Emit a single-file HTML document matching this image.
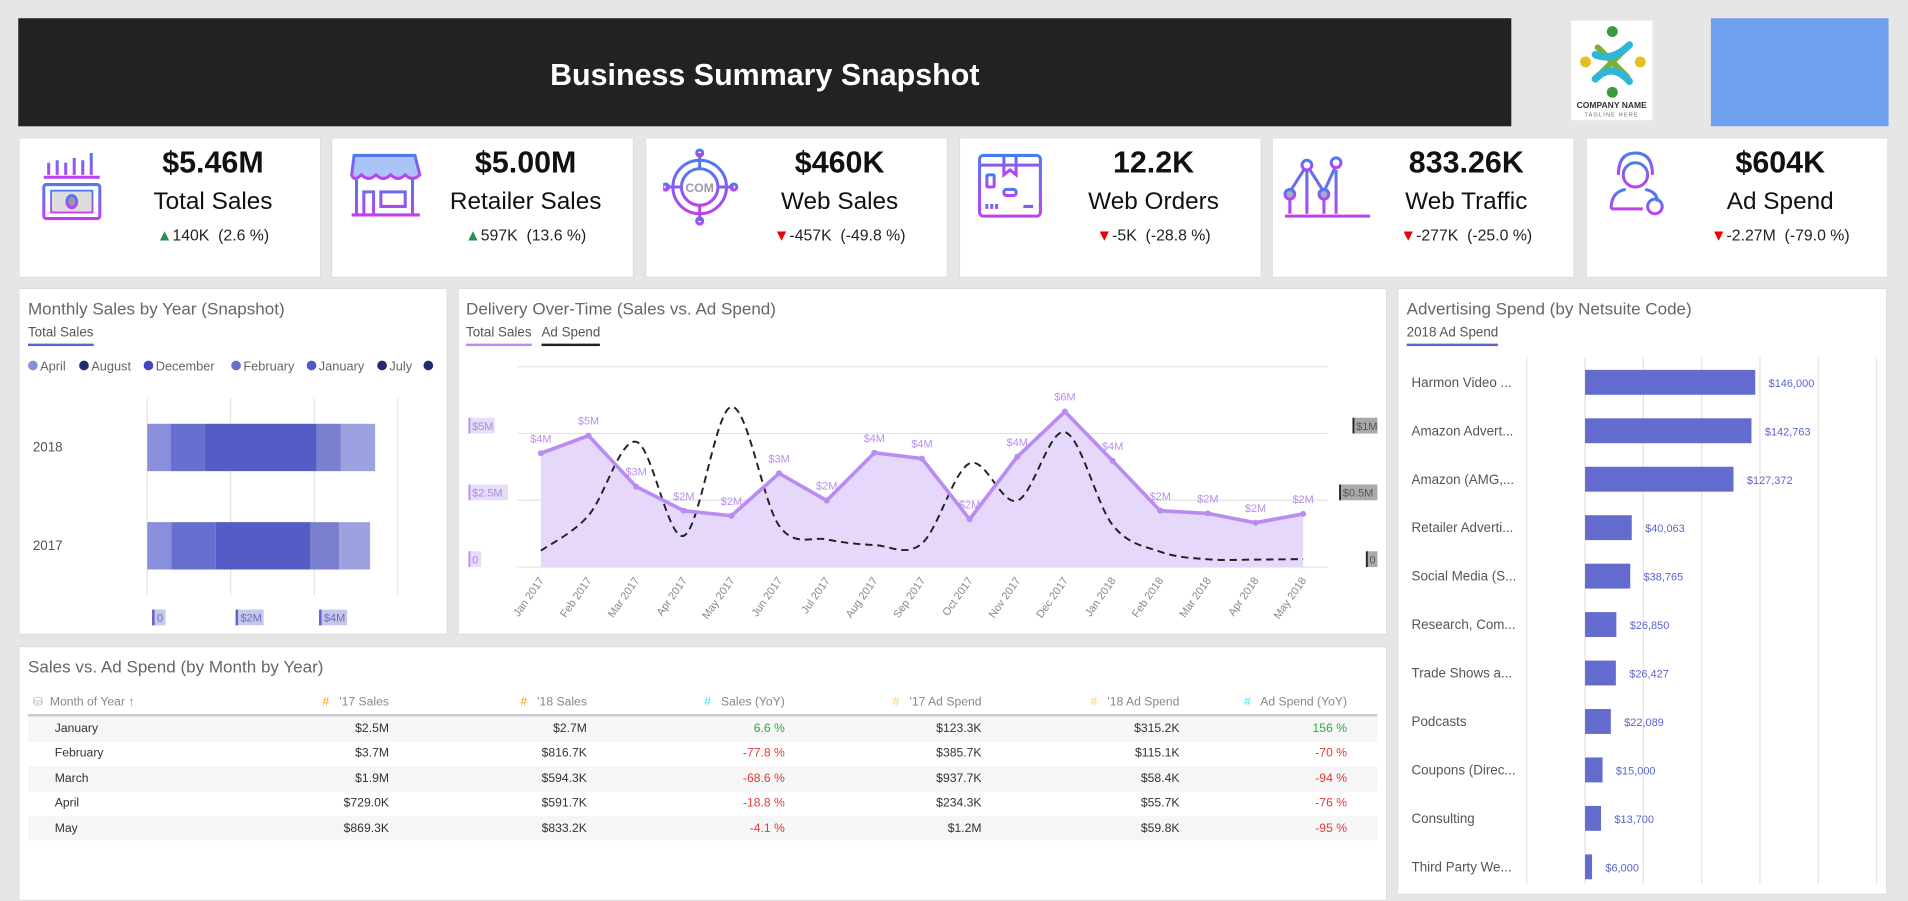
<!DOCTYPE html>
<html><head><meta charset="utf-8">
<style>
html,body{margin:0;padding:0;width:1908px;height:884px;overflow:hidden;background:#e6e6e6;font-family:"Liberation Sans",sans-serif;}
#root{position:absolute;left:0;top:0;width:1568px;height:728px;transform-origin:0 0;transform:scale(1.21684,1.21429);background:#e6e6e6;}
.abs{position:absolute;}
.card{position:absolute;background:#fff;border:1px solid #ddd;box-sizing:border-box;}
.kpi .val{position:absolute;left:70px;width:178px;text-align:center;top:6px;font-size:25px;font-weight:bold;color:#111;}
.kpi .lbl{position:absolute;left:70px;width:178px;text-align:center;top:41px;font-size:20px;color:#111;}
.kpi .dl{position:absolute;left:70px;width:178px;text-align:center;top:72px;font-size:13px;color:#222;}
.up{color:#2e8b57}.dn{color:#e00}
.ptitle{position:absolute;font-size:14px;color:#666;}
.tab{position:absolute;font-size:11px;color:#555;padding-bottom:3px;}
table{border-collapse:collapse;font-size:10px;color:#333;}
td,th{height:20.4px;padding:0;}
th{font-weight:normal;color:#888;}
</style></head><body>
<div id="root">
<div class="abs" style="left:15px;top:15px;width:1227px;height:89px;background:#222;"></div>
<div class="abs" style="left:15px;top:48px;width:1227px;text-align:center;color:#fff;font-weight:bold;font-size:25px;">Business Summary Snapshot</div>
<div class="abs" style="left:1291px;top:17px;width:67px;height:82px;background:#fff;">
<svg width="67" height="82" viewBox="0 0 67 82">
<circle cx="34" cy="9" r="4.5" fill="#3c9a3c"/><circle cx="34" cy="59" r="4.5" fill="#3c9a3c"/>
<circle cx="12" cy="34" r="4.5" fill="#e5c020"/><circle cx="57" cy="34" r="4.5" fill="#e5c020"/>
<path d="M22 22 L46 46 M46 22 L22 46" stroke="#7ab03a" stroke-width="5" stroke-linecap="round"/>
<path d="M20 28 Q34 34 48 20 M20 48 Q34 34 48 50" stroke="#2fb6d6" stroke-width="6" fill="none" stroke-linecap="round"/>
<text x="33.5" y="72" font-size="7" font-weight="bold" text-anchor="middle" fill="#333">COMPANY NAME</text>
<text x="33.5" y="79" font-size="4.5" text-anchor="middle" fill="#666" letter-spacing="1">TAGLINE HERE</text>
</svg></div>
<div class="abs" style="left:1406px;top:15px;width:146px;height:89px;background:#6ea0ee;"></div>

<svg width="0" height="0" style="position:absolute"><defs><linearGradient id="ig" x1="0" y1="0" x2="0" y2="1"><stop offset="0" stop-color="#4a7cf0"/><stop offset="1" stop-color="#c040f0"/></linearGradient></defs></svg>

<div class="card kpi" style="left:15px;top:113px;width:249px;height:116px;">
<svg class="abs" style="left:18px;top:10px" width="52" height="60" fill="none" stroke="url(#ig)" stroke-width="2.5"><path d="M2 22H48M6 20V10M13 20V8M20 20V10M27 20V6M34 20V8M41 20V2"/><rect x="2" y="28" width="46" height="28" rx="2"/><rect x="8" y="33" width="34" height="18" fill="#ddd" stroke-width="1.5"/><ellipse cx="25" cy="42" rx="4" ry="5" fill="#99a"/></svg>
<div class="val">$5.46M</div><div class="lbl">Total Sales</div><div class="dl"><span class="up">▲</span>140K &nbsp;(2.6 %)</div></div>
<div class="card kpi" style="left:272px;top:113px;width:249px;height:116px;">
<svg class="abs" style="left:14px;top:10px" width="60" height="60" fill="none" stroke="url(#ig)" stroke-width="2.5"><path d="M4 4H54L58 20Q52 26 46 20Q40 26 34 20Q28 26 22 20Q16 26 10 20Q4 26 2 20Z" fill="#aac4f8"/><path d="M6 24V52M52 24V52M2 53H58M12 52V34H20V52M26 34H46V46H26Z"/></svg>
<div class="val">$5.00M</div><div class="lbl">Retailer Sales</div><div class="dl"><span class="up">▲</span>597K &nbsp;(13.6 %)</div></div>
<div class="card kpi" style="left:530px;top:113px;width:249px;height:116px;">
<svg class="abs" style="left:14px;top:8px" width="62" height="64" fill="none" stroke="url(#ig)" stroke-width="2.5"><circle cx="30" cy="32" r="22"/><circle cx="30" cy="32" r="15"/><path d="M30 4V17M30 47V60M2 32H15M45 32H58"/><circle cx="30" cy="4" r="2.5"/><circle cx="30" cy="60" r="2.5"/><circle cx="2" cy="32" r="2.5"/><circle cx="58" cy="32" r="2.5"/><text x="30" y="36" font-size="10" font-weight="bold" text-anchor="middle" fill="#99a" stroke="none">COM</text></svg>
<div class="val">$460K</div><div class="lbl">Web Sales</div><div class="dl"><span class="dn">▼</span>-457K &nbsp;(-49.8 %)</div></div>
<div class="card kpi" style="left:788px;top:113px;width:249px;height:116px;">
<svg class="abs" style="left:14px;top:10px" width="56" height="60" fill="none" stroke="url(#ig)" stroke-width="2.5"><rect x="2" y="4" width="50" height="50" rx="3"/><path d="M2 12H52M22 4V20L27 16L32 20V4" /><rect x="8" y="20" width="6" height="10" rx="1"/><rect x="22" y="32" width="10" height="5" rx="2"/><path d="M8 48V44M12 48V44M16 48V44M38 46H46"/></svg>
<div class="val">12.2K</div><div class="lbl">Web Orders</div><div class="dl"><span class="dn">▼</span>-5K &nbsp;(-28.8 %)</div></div>
<div class="card kpi" style="left:1045px;top:113px;width:249px;height:116px;">
<svg class="abs" style="left:8px;top:10px" width="80" height="60" fill="none" stroke="url(#ig)" stroke-width="2.5"><path d="M6 34L20 12L34 34L44 12M6 38V52M20 16V52M34 38V52M44 16V52M2 54H72"/><circle cx="6" cy="36" r="4" fill="#aac"/><circle cx="20" cy="12" r="4" fill="#fff"/><circle cx="34" cy="36" r="4" fill="#aac"/><circle cx="44" cy="10" r="4" fill="#fff"/></svg>
<div class="val">833.26K</div><div class="lbl">Web Traffic</div><div class="dl"><span class="dn">▼</span>-277K &nbsp;(-25.0 %)</div></div>
<div class="card kpi" style="left:1303px;top:113px;width:249px;height:116px;">
<svg class="abs" style="left:16px;top:8px" width="56" height="66" fill="none" stroke="url(#ig)" stroke-width="2.5"><path d="M10 22Q10 4 24 4Q38 4 38 22"/><circle cx="24" cy="22" r="10"/><path d="M4 50Q4 36 16 34M32 34Q42 36 42 44M4 50H30"/><circle cx="40" cy="48" r="6"/><path d="M40 54V62"/></svg>
<div class="val">$604K</div><div class="lbl">Ad Spend</div><div class="dl"><span class="dn">▼</span>-2.27M &nbsp;(-79.0 %)</div></div>

<div class="card" style="left:15px;top:237px;width:353px;height:286px;"></div>
<div class="ptitle" style="left:23px;top:246px;">Monthly Sales by Year (Snapshot)</div>
<div class="tab" style="left:23px;top:268px;border-bottom:2px solid #5b63cf;">Total Sales</div>

<div class="card" style="left:376px;top:237px;width:764px;height:286px;"></div>
<div class="ptitle" style="left:383px;top:246px;">Delivery Over-Time (Sales vs. Ad Spend)</div>
<div class="tab" style="left:383px;top:268px;border-bottom:2px solid #b98cf2;">Total Sales</div>
<div class="tab" style="left:445px;top:268px;border-bottom:2px solid #222;">Ad Spend</div>

<div class="card" style="left:1148px;top:237px;width:403px;height:500px;"></div>
<div class="ptitle" style="left:1156px;top:246px;">Advertising Spend (by Netsuite Code)</div>
<div class="tab" style="left:1156px;top:268px;border-bottom:2px solid #5b63cf;">2018 Ad Spend</div>

<div class="card" style="left:15px;top:532px;width:1125px;height:210px;"></div>
<div class="ptitle" style="left:23px;top:541px;">Sales vs. Ad Spend (by Month by Year)</div>
<table class="abs" style="left:23px;top:568px;width:1109px;">
<colgroup><col style="width:130px"><col style="width:160px"><col style="width:159px"><col style="width:159px"><col style="width:158px"><col style="width:159px"><col style="width:159px"></colgroup>
<tr style="border-bottom:2px solid #ccc;height:21px">
<th style="text-align:left;padding-left:4px"><span style="color:#aaa">⛁</span>&nbsp; Month of Year ↑</th>
<th style="text-align:right"><span style="color:#f90">#</span>&nbsp;&nbsp; '17 Sales</th>
<th style="text-align:right"><span style="color:#f90">#</span>&nbsp;&nbsp; '18 Sales</th>
<th style="text-align:right"><span style="color:#3ee">#</span>&nbsp;&nbsp; Sales (YoY)</th>
<th style="text-align:right"><span style="color:#fc6">#</span>&nbsp;&nbsp; '17 Ad Spend</th>
<th style="text-align:right"><span style="color:#fc6">#</span>&nbsp;&nbsp; '18 Ad Spend</th>
<th style="text-align:right;padding-right:25px"><span style="color:#3ee">#</span>&nbsp;&nbsp; Ad Spend (YoY)</th></tr>
<tbody id="tbody"></tbody></table>

<svg id="charts" class="abs" style="left:0;top:0" width="1568" height="728" font-family="Liberation Sans, sans-serif"></svg>
</div>
<script>
// ---- Monthly sales by year ----
const yearCats=['2018','2017'];
const seg2018=[0.56,0.82,2.68,0.58,0.82];
const seg2017=[0.58,1.06,2.26,0.70,0.74];
const segColors=['#8a8fdb','#6870cf','#545dc5','#7a7fd0','#9ca1e0'];
const legendNames=['April','August','December','February','January','July'];
const legendColors=['#8a8fdb','#262a6e','#4048c0','#6870cf','#4f58cc','#262a6e'];
const mTicks=[0,2,4,6];
const mTickLabels=['0','$2M','$4M'];
// ---- Delivery over time ----
const months=['Jan 2017','Feb 2017','Mar 2017','Apr 2017','May 2017','Jun 2017','Jul 2017','Aug 2017','Sep 2017','Oct 2017','Nov 2017','Dec 2017','Jan 2018','Feb 2018','Mar 2018','Apr 2018','May 2018'];
const salesVals=[4.26,4.92,3.01,2.11,1.92,3.51,2.49,4.28,4.06,1.79,4.13,5.82,3.98,2.11,2.01,1.66,1.99];
const salesLabels=['$4M','$5M','$3M','$2M','$2M','$3M','$2M','$4M','$4M','$2M','$4M','$6M','$4M','$2M','$2M','$2M','$2M'];
const adVals=[0.123,0.386,0.938,0.234,1.2,0.31,0.207,0.165,0.177,0.776,0.497,1.01,0.315,0.115,0.058,0.056,0.06];
const leftTicks=[0,2.5,5,7.5];
const leftTickLabels=['0','$2.5M','$5M'];
const rightTicks=[0,0.5,1];
const rightTickLabels=['0','$0.5M','$1M'];
// ---- Advertising spend ----
const adCats=['Harmon Video ...','Amazon Advert...','Amazon (AMG,...','Retailer Adverti...','Social Media (S...','Research, Com...','Trade Shows a...','Podcasts','Coupons (Direc...','Consulting','Third Party We...'];
const adSpend2018=[146000,142763,127372,40063,38765,26850,26427,22089,15000,13700,6000];
const adGrid=[-50000,0,50000,100000,150000,200000,250000];
// ---- Table ----
const tMonths=['January','February','March','April','May'];
const tSales17=['$2.5M','$3.7M','$1.9M','$729.0K','$869.3K'];
const tSales18=['$2.7M','$816.7K','$594.3K','$591.7K','$833.2K'];
const tSalesYoy=['6.6 %','-77.8 %','-68.6 %','-18.8 %','-4.1 %'];
const tAd17=['$123.3K','$385.7K','$937.7K','$234.3K','$1.2M'];
const tAd18=['$315.2K','$115.1K','$58.4K','$55.7K','$59.8K'];
const tAdYoy=['156 %','-70 %','-94 %','-76 %','-95 %'];

const NS='http://www.w3.org/2000/svg';
const svg=document.getElementById('charts');
function mk(tag,attrs,parent){const e=document.createElementNS(NS,tag);for(const k in attrs)e.setAttribute(k,attrs[k]);(parent||svg).appendChild(e);return e;}

// Monthly chart
const mx=v=>121+v*34.3;
const myRow=i=>349+i*81;
const gM=mk('g',{});


mTicks.forEach(t=>{const l=mk('line',{x1:mx(t),x2:mx(t),y1:328,y2:490,stroke:'#e3e3e3'},gM);

});
mTickLabels.forEach((s,i)=>{const x=mx(mTicks[i])+4;
const r=mk('rect',{x:x,y:502,width:s.length*6+5,height:13,fill:'#c5c8ec'},gM);


mk('rect',{x:x,y:502,width:2,height:13,fill:'#5b63cf'},gM);
const t=mk('text',{x:x+4,y:512,'font-size':9,fill:'#6a6fb0'},gM);t.textContent=s;

});
[seg2018,seg2017].forEach((segs,ri)=>{let acc=0;
const yl=mk('text',{x:27,y:myRow(ri)+23,'font-size':11,fill:'#555'},gM);yl.textContent=yearCats[ri];


segs.forEach((v,si)=>{const r=mk('rect',{x:mx(acc),y:myRow(ri),width:mx(acc+v)-mx(acc),height:39,fill:segColors[si]},gM);

acc+=v;});});
const legendX=[27,69,122,194,256,314];
legendNames.forEach((n,i)=>{const lx=legendX[i];
const c=mk('circle',{cx:lx,cy:301,r:4,fill:legendColors[i]},gM);


const t=mk('text',{x:lx+6,y:305,'font-size':10.5,fill:'#666'},gM);t.textContent=n;

});
const ld=mk('circle',{cx:352,cy:301,r:4,fill:'#262a6e'},gM);



// Delivery chart
const dx=i=>444.5+i*39.15;
const dyL=v=>467-v*22;
const dyR=v=>467-v*110;
const gD=mk('g',{});


leftTicks.forEach(t=>{const l=mk('line',{x1:425,x2:1091,y1:dyL(t),y2:dyL(t),stroke:'#e3e3e3'},gD);

});
const pts=salesVals.map((v,i)=>[dx(i),dyL(v)]);
const area=mk('path',{d:'M'+dx(0)+','+dyL(0)+pts.map(p=>'L'+p[0]+','+p[1]).join('')+'L'+dx(salesVals.length-1)+','+dyL(0)+'Z',fill:'#e5d8fb'},gD);


function smooth(p){let d='M'+p[0][0]+','+p[0][1];for(let i=0;i<p.length-1;i++){const p0=p[i-1]||p[i],p1=p[i],p2=p[i+1],p3=p[i+2]||p2;
d+='C'+(p1[0]+(p2[0]-p0[0])/6)+','+(p1[1]+(p2[1]-p0[1])/6)+' '+(p2[0]-(p3[0]-p1[0])/6)+','+(p2[1]-(p3[1]-p1[1])/6)+' '+p2[0]+','+p2[1];}return d;}
const adLine=mk('path',{d:smooth(adVals.map((v,i)=>[dx(i),dyR(v)])),fill:'none',stroke:'#222','stroke-width':1.6,'stroke-dasharray':'6,4'},gD);


const sLine=mk('polyline',{points:pts.map(p=>p.join(',')).join(' '),fill:'none',stroke:'#b98cf2','stroke-width':3},gD);


pts.forEach((p,i)=>{const c=mk('circle',{cx:p[0],cy:p[1],r:2.5,fill:'#b98cf2'},gD);


const t=mk('text',{x:p[0],y:p[1]-9,'font-size':9,fill:'#b98cf2','text-anchor':'middle'},gD);t.textContent=salesLabels[i];


const xl=mk('text',{x:p[0]+3,y:478,'font-size':9,fill:'#888','text-anchor':'end',transform:'rotate(-55 '+(p[0]+3)+' 478)'},gD);xl.textContent=months[i];

});
leftTickLabels.forEach((s,i)=>{const y=dyL(leftTicks[i]);
const r=mk('rect',{x:385,y:y-13,width:s.length*5.5+5,height:13,fill:'#e8dcfb'},gD);


mk('rect',{x:385,y:y-13,width:1.5,height:13,fill:'#b98cf2'},gD);
const t=mk('text',{x:388,y:y-3,'font-size':9,fill:'#a88bd8'},gD);t.textContent=s;

});
rightTickLabels.forEach((s,i)=>{const y=dyR(rightTicks[i]);const w=s.length*5.5+4;const x=1132-w;
const r=mk('rect',{x:x,y:y-13,width:w,height:13,fill:'#aaa'},gD);


mk('rect',{x:x,y:y-13,width:1.5,height:13,fill:'#222'},gD);
const t=mk('text',{x:x+3,y:y-3,'font-size':9,fill:'#555'},gD);t.textContent=s;

});

// Ad spend chart
const ax=v=>1302.6+v*0.000958;
const ay=i=>314.6+i*39.9;
const gA=mk('g',{});


adGrid.forEach(g=>{const l=mk('line',{x1:ax(g),x2:ax(g),y1:294,y2:728,stroke:'#e3e3e3'},gA);

});
adCats.forEach((c,i)=>{const y=ay(i);
const t=mk('text',{x:1160,y:y+4,'font-size':11,fill:'#555'},gA);t.textContent=c;


const r=mk('rect',{x:ax(0),y:y-10,width:ax(adSpend2018[i])-ax(0),height:20.5,fill:'#5b63cb',opacity:0.95},gA);


const v=mk('text',{x:ax(adSpend2018[i])+11,y:y+4,'font-size':9,fill:'#5b63cf'},gA);v.textContent='$'+adSpend2018[i].toLocaleString('en-US');

});

// Table
const tb=document.getElementById('tbody');
tMonths.forEach((m,i)=>{const tr=document.createElement('tr');


if(i%2===0)tr.style.background='#f6f6f6';
const cells=[m,tSales17[i],tSales18[i],tSalesYoy[i],tAd17[i],tAd18[i],tAdYoy[i]];
cells.forEach((c,j)=>{const td=document.createElement('td');td.textContent=c;


if(j===0){td.style.paddingLeft='22px';}else td.style.textAlign='right';
if(j===6)td.style.paddingRight='25px';
if(j===3||j===6)td.style.color=c.startsWith('-')?'#e53935':'#2ea84a';
tr.appendChild(td);});tb.appendChild(tr);});
</script>
</body></html>
